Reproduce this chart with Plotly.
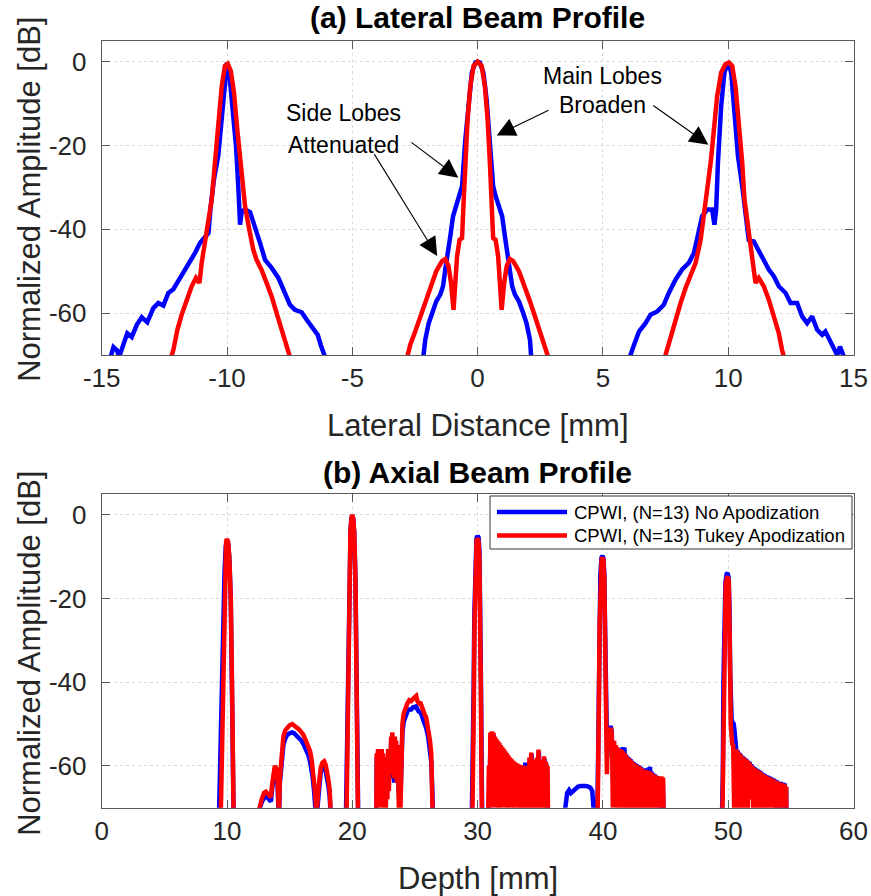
import plotly.graph_objects as go

# ---------------- Lateral beam profile (a) ----------------
LAT_BLUE_LEFT = [(-14.75,-80),(-14.67,-71),(-14.53,-68.1),(-14.40,-68.8),(-14.30,-70.4),(-14.14,-67.6),(-13.98,-64.8),
    (-13.80,-65.7),(-13.60,-62.8),(-13.40,-61.0),(-13.18,-62.2),(-12.94,-58.8),(-12.74,-57.6),(-12.54,-58.2),(-12.34,-55.2),
    (-12.14,-54.3),(-11.90,-52.0),(-11.68,-50.0),(-11.48,-48.0),(-11.28,-45.7),(-11.08,-43.3),(-10.88,-41.8),(-10.74,-40.9),
    (-10.65,-34.5),(-10.52,-28.1),(-10.35,-22.5),(-10.21,-13.0),(-10.08,-2.6),(-10.00,-0.2),(-9.91,-2.6),(-9.77,-10.6),
    (-9.64,-20.2),(-9.55,-29.7),(-9.48,-38.9),(-9.41,-35.7),(-9.28,-35.3),(-9.08,-35.9),(-8.88,-39.3),(-8.68,-43.3),
    (-8.48,-47.3),(-8.22,-49.2),(-7.95,-51.6),(-7.69,-55.2),(-7.49,-58.0),(-7.29,-59.2),(-7.02,-59.8),(-6.82,-61.6),
    (-6.58,-63.6),(-6.38,-65.2),(-6.26,-67.6),(-6.09,-70.4),(-6.00,-80)]
LAT_BLUE_CENTER = [(-2.25,-80),(-2.18,-71.2),(-2.09,-66.4),(-1.95,-62.4),(-1.82,-60.0),(-1.65,-57.2),(-1.49,-55.6),
    (-1.38,-53.6),(-1.29,-49.6),(-1.20,-46.5),(-1.09,-41.7),(-0.98,-36.9),(-0.85,-34.5),(-0.72,-32.1),(-0.62,-29.7),
    (-0.49,-18.6),(-0.36,-9.1),(-0.23,-2.6),(-0.09,-0.2),(0.0,0.0),(0.09,-0.2),(0.23,-2.6),(0.36,-9.1),(0.49,-18.6),
    (0.62,-29.7),(0.72,-32.1),(0.85,-34.5),(0.98,-36.9),(1.09,-41.7),(1.20,-46.5),(1.29,-49.6),(1.38,-53.6),(1.49,-55.6),
    (1.65,-57.2),(1.82,-60.0),(1.95,-62.4),(2.09,-66.4),(2.18,-71.2),(2.25,-80)]
LAT_BLUE_RIGHT = [(6.00,-80),(6.10,-70),(6.24,-67.6),(6.44,-64.4),(6.70,-62.4),(6.90,-60.4),(7.17,-59.6),(7.43,-58.0),
    (7.63,-55.2),(7.90,-52.0),(8.16,-49.6),(8.43,-48.0),(8.63,-45.7),(8.83,-40.9),(8.96,-36.9),(9.16,-35.3),(9.36,-35.3),
    (9.45,-38.9),(9.52,-35.3),(9.59,-24.1),(9.72,-10.6),(9.85,-2.6),(9.99,-0.2),(10.12,-2.6),(10.25,-11.4),(10.39,-22.5),
    (10.56,-29.7),(10.69,-36.9),(10.82,-42.5),(11.02,-42.9),(11.22,-45.3),(11.42,-47.3),(11.62,-49.6),(11.82,-51.2),
    (12.02,-53.6),(12.29,-55.2),(12.49,-57.6),(12.75,-57.6),(12.95,-60.8),(13.15,-62.4),(13.35,-60.8),(13.55,-64.0),
    (13.75,-65.2),(13.88,-64.4),(14.08,-66.8),(14.22,-68.8),(14.35,-70),(14.46,-68.0),(14.59,-70),(14.65,-80)]

LAT_RED_LEFT = [(-12.35,-80),(-12.27,-71.2),(-12.14,-68.8),(-11.98,-64.0),(-11.81,-60.4),(-11.61,-56.8),(-11.41,-53.6),
    (-11.24,-51.6),(-11.10,-52.8),(-11.01,-48.0),(-10.88,-42.5),(-10.74,-37.7),(-10.61,-32.9),(-10.48,-24.1),(-10.35,-14.6),
    (-10.21,-5.8),(-10.08,-1.0),(-9.97,-0.5),(-9.85,-2.2),(-9.72,-7.4),(-9.59,-16.2),(-9.41,-28.1),(-9.28,-34.5),
    (-9.11,-40.1),(-8.95,-44.9),(-8.82,-47.3),(-8.62,-49.7),(-8.42,-52.8),(-8.22,-56.0),(-8.02,-60.0),(-7.82,-64.0),
    (-7.62,-68.0),(-7.49,-70.4),(-7.40,-80)]
LAT_RED_CENTER = [(-2.90,-80),(-2.79,-70),(-2.69,-67.6),(-2.49,-64.4),(-2.29,-60.8),(-2.09,-57.2),(-1.89,-53.6),
    (-1.65,-50.0),(-1.42,-47.6),(-1.29,-47.1),(-1.16,-48.8),(-1.06,-52.8),(-0.96,-59.2),(-0.89,-52.8),(-0.82,-46.5),
    (-0.72,-42.5),(-0.62,-42.1),(-0.56,-33.7),(-0.49,-24.1),(-0.40,-13.8),(-0.29,-5.8),(-0.16,-1.0),(0.0,0.0),
    (0.16,-1.0),(0.29,-5.8),(0.40,-13.8),(0.49,-24.1),(0.56,-33.7),(0.62,-42.1),(0.72,-42.5),(0.82,-46.5),(0.89,-52.8),
    (0.96,-59.2),(1.06,-52.8),(1.16,-48.8),(1.29,-47.1),(1.42,-47.6),(1.65,-50.0),(1.89,-53.6),(2.09,-57.2),(2.29,-60.8),
    (2.49,-64.4),(2.69,-67.6),(2.79,-70),(2.90,-80)]
LAT_RED_RIGHT = [(7.40,-80),(7.50,-70),(7.70,-65.6),(7.90,-61.6),(8.10,-57.6),(8.30,-54.0),(8.50,-51.2),(8.70,-48.0),
    (8.90,-42.5),(9.03,-36.9),(9.16,-31.3),(9.30,-24.1),(9.43,-16.2),(9.56,-8.2),(9.72,-2.6),(9.89,-0.6),(10.03,-0.2),
    (10.16,-1.0),(10.29,-5.8),(10.43,-14.6),(10.56,-24.1),(10.65,-32.9),(10.76,-37.7),(10.89,-42.5),(11.00,-48.0),
    (11.09,-52.8),(11.22,-51.6),(11.42,-53.6),(11.62,-56.8),(11.82,-60.4),(12.02,-64.8),(12.15,-68.8),(12.22,-70.4),(12.30,-80)]

# ---------------- Axial beam profile (b) ----------------
AX_BLUE_10 = [(9.30,-80),(9.42,-62),(9.55,-45),(9.68,-28),(9.80,-14),(9.90,-7.5),(10.00,-6.2),(10.08,-6.7),(10.18,-10),
    (10.30,-20),(10.40,-40),(10.48,-60),(10.56,-80)]
AX_RED_10 = [(9.45,-80),(9.62,-55),(9.70,-40),(9.78,-20),(9.86,-10),(9.93,-6.3),(10.00,-5.8),(10.08,-6.3),(10.18,-10),
    (10.30,-20),(10.40,-40),(10.48,-60),(10.56,-80)]
AX_BLUE_15 = [(12.50,-80),(12.62,-70),(12.80,-68.5),(12.95,-67.5),(13.10,-67),(13.30,-67.8),(13.50,-68.5),(13.62,-65),
    (13.72,-62.5),(13.82,-61),(13.92,-61.5),(14.02,-63),(14.10,-70),(14.15,-72),(14.22,-64),(14.32,-61),(14.40,-57),
    (14.50,-55),(14.65,-53.5),(14.80,-52.6),(15.00,-52.2),(15.20,-52),(15.35,-52.2),(15.55,-52.7),(15.75,-53.3),
    (15.95,-54),(16.10,-54.8),(16.30,-56),(16.50,-57.5),(16.63,-59),(16.75,-61),(16.85,-63),(16.95,-66),(17.05,-69),
    (17.15,-74),(17.25,-69),(17.35,-64.5),(17.48,-61.5),(17.62,-60.5),(17.75,-60.3),(17.88,-61.3),(17.98,-62.5),
    (18.10,-65),(18.20,-67.5),(18.30,-71),(18.40,-80)]
AX_RED_15 = [(12.50,-80),(12.60,-70),(12.77,-68),(12.95,-66.5),(13.10,-66.2),(13.30,-66.8),(13.50,-67.5),(13.62,-64),
    (13.72,-62),(13.82,-60),(13.92,-60.5),(14.02,-62),(14.10,-69),(14.15,-71),(14.22,-63),(14.32,-60),(14.40,-55),
    (14.50,-53),(14.65,-51.5),(14.80,-50.8),(15.00,-50.3),(15.20,-50),(15.35,-50.3),(15.55,-50.8),(15.75,-51.3),
    (15.95,-52),(16.10,-52.6),(16.30,-54),(16.50,-55.5),(16.63,-56.5),(16.75,-58.5),(16.85,-60.5),(16.95,-64),
    (17.05,-67),(17.15,-72),(17.25,-67),(17.35,-63),(17.48,-60.5),(17.62,-59.2),(17.75,-58.9),(17.88,-59.8),
    (17.98,-61),(18.10,-63.5),(18.20,-66),(18.30,-70),(18.40,-80)]
AX_BLUE_20 = [(19.45,-80),(19.58,-55),(19.64,-40),(19.70,-25),(19.77,-12),(19.86,-3.5),(19.93,-0.8),(20.00,-0.1),
    (20.07,-0.8),(20.15,-4),(20.25,-15),(20.32,-32),(20.38,-52),(20.50,-80)]
AX_RED_20 = [(19.50,-80),(19.62,-50),(19.68,-30),(19.75,-15),(19.85,-4),(19.93,-0.8),(20.00,0.0),(20.07,-0.8),
    (20.15,-4),(20.25,-15),(20.32,-30),(20.38,-50),(20.48,-80)]
AX_BLUE_25 = [(21.90,-80),(21.95,-58),(22.00,-68),(22.05,-57),(22.10,-66),(22.15,-57),(22.20,-68),(22.25,-57),
    (22.30,-67),(22.35,-57),(22.40,-69),(22.45,-58),(22.52,-67),(22.60,-69),(22.68,-67),(22.74,-59),(22.80,-66),
    (22.86,-57),(22.92,-64),(22.98,-57),(23.04,-63),(23.10,-54),(23.15,-62),(23.20,-53),(23.25,-63),(23.30,-56),
    (23.35,-64),(23.40,-54),(23.45,-62),(23.50,-55),(23.56,-63),(23.62,-56),(23.70,-66),(23.78,-68),(23.86,-66),
    (23.92,-59),(24.00,-52),(24.10,-49.5),(24.25,-48),(24.40,-47),(24.55,-46.5),(24.70,-46.5),(24.85,-46),
    (25.00,-45.8),(25.10,-45.8),(25.20,-46.5),(25.30,-47),(25.45,-47.2),(25.60,-48.5),(25.75,-49.5),(25.90,-51),
    (26.05,-53),(26.20,-56),(26.30,-59),(26.40,-67),(26.47,-80)]
AX_RED_25 = [(21.90,-80),(21.95,-57),(22.00,-70),(22.05,-56),(22.10,-68),(22.15,-56),(22.20,-70),(22.25,-56),
    (22.30,-69),(22.35,-56),(22.40,-70),(22.45,-57),(22.52,-72),(22.60,-80),(22.68,-70),(22.74,-58),(22.80,-68),
    (22.86,-56),(22.92,-66),(22.98,-56),(23.04,-62),(23.10,-53),(23.15,-60),(23.20,-52),(23.25,-62),(23.30,-55),
    (23.35,-63),(23.40,-53),(23.45,-60),(23.50,-54),(23.56,-64),(23.62,-55),(23.70,-68),(23.78,-80),(23.86,-68),
    (23.92,-57),(24.00,-50),(24.10,-47.5),(24.25,-46),(24.40,-45),(24.55,-44.3),(24.70,-44.5),(24.85,-44),
    (25.00,-43.5),(25.10,-43.3),(25.20,-44.5),(25.30,-45),(25.45,-45),(25.60,-46.5),(25.75,-47.5),(25.90,-48.5),
    (26.05,-51),(26.20,-54),(26.30,-57),(26.40,-65),(26.47,-80)]
AX_BLUE_30 = [(29.50,-80),(29.62,-62),(29.68,-42),(29.74,-24),(29.82,-11),(29.91,-5.6),(30.00,-5.0),(30.08,-5.4),
    (30.15,-9),(30.21,-20),(30.27,-40),(30.33,-62),(30.40,-80),
    (30.82,-80),(30.92,-62),(30.98,-66),(31.05,-52.5),(31.11,-64),(31.17,-52),(31.23,-66),(31.29,-52.5),(31.35,-64),
    (31.41,-53.5),(31.47,-66),(31.53,-54),(31.59,-64),(31.65,-54.5),(31.71,-67),(31.77,-55),(31.83,-64),(31.89,-55.5),
    (31.95,-66),(32.01,-56),(32.07,-63),(32.13,-56.5),(32.19,-66),(32.25,-57),(32.31,-64),(32.37,-57.5),(32.43,-67),
    (32.49,-58),(32.55,-64),(32.61,-58.5),(32.67,-66),(32.73,-58.8),(32.79,-64),(32.85,-59.2),(32.91,-67),(32.97,-59.4),
    (33.03,-64),(33.09,-59.7),(33.15,-66),(33.21,-59.9),(33.27,-64),(33.33,-60.1),(33.39,-67),(33.45,-60.2),(33.51,-64),
    (33.57,-60.3),(33.63,-68),(33.69,-60.2),(33.75,-66),(33.81,-59.2),(33.87,-64),(33.93,-60.4),(33.99,-68),(34.05,-60.4),
    (34.11,-66),(34.17,-58.3),(34.23,-64),(34.31,-57.2),(34.39,-68),(34.47,-60.4),(34.55,-64),(34.61,-58.8),(34.69,-68),
    (34.77,-58.3),(34.83,-64),(34.89,-56.6),(34.97,-68),(35.05,-60.4),(35.11,-64),(35.17,-58.8),(35.25,-68),(35.33,-58.2),
    (35.41,-66),(35.47,-59.4),(35.55,-62),(35.62,-80)]
AX_RED_30 = [(29.55,-80),(29.65,-65),(29.70,-45),(29.76,-25),(29.84,-12),(29.92,-6.2),(30.00,-5.6),(30.07,-6.1),
    (30.14,-10),(30.20,-22),(30.26,-42),(30.32,-65),(30.38,-80),
    (30.80,-80),(30.90,-60),(30.96,-70),(31.02,-52),(31.08,-68),(31.14,-51.7),(31.20,-70),(31.26,-52),(31.32,-68),
    (31.38,-53),(31.44,-70),(31.50,-53.5),(31.56,-68),(31.62,-54),(31.68,-72),(31.74,-54.5),(31.80,-66),(31.86,-55),
    (31.92,-70),(31.98,-55.5),(32.04,-65),(32.10,-56),(32.16,-70),(32.22,-56.5),(32.28,-66),(32.34,-57),(32.40,-71),
    (32.46,-57.5),(32.52,-66),(32.58,-58),(32.64,-70),(32.70,-58.3),(32.76,-67),(32.82,-58.7),(32.88,-72),(32.94,-59),
    (33.00,-68),(33.06,-59.3),(33.12,-70),(33.18,-59.5),(33.24,-66),(33.30,-59.7),(33.36,-72),(33.42,-59.8),(33.48,-68),
    (33.54,-60),(33.60,-80),(33.66,-60),(33.72,-70),(33.78,-60),(33.84,-66),(33.90,-60.2),(33.96,-74),(34.02,-60.3),
    (34.08,-70),(34.14,-58),(34.20,-66),(34.28,-56.8),(34.36,-80),(34.44,-60),(34.52,-66),(34.58,-58.5),(34.66,-80),
    (34.74,-58),(34.80,-66),(34.86,-56.1),(34.94,-80),(35.02,-60),(35.08,-66),(35.14,-58.5),(35.22,-80),(35.30,-57.7),
    (35.38,-68),(35.44,-59),(35.52,-62),(35.58,-60),(35.65,-80)]
AX_BLUE_38 = [(36.85,-80),(37.00,-70),(37.15,-66.5),(37.30,-65.8),(37.45,-66.5),(37.60,-66),(37.80,-65.3),(38.00,-65),
    (38.20,-64.8),(38.40,-64.7),(38.60,-64.8),(38.80,-64.9),(39.00,-65.2),(39.15,-66),(39.25,-70),(39.30,-80)]
AX_BLUE_40 = [(39.50,-80),(39.60,-62),(39.66,-42),(39.72,-25),(39.80,-14),(39.89,-10.2),(39.96,-9.8),(40.04,-10.3),
    (40.11,-14),(40.17,-26),(40.23,-42),(40.28,-56),(40.34,-58),(40.42,-52),(40.52,-50.8),(40.62,-50.5),(40.70,-51.5),
    (40.76,-56),(40.82,-64),(40.88,-55),(40.94,-64),(41.00,-55.5),(41.06,-63),(41.12,-55.8),(41.18,-65),(41.24,-56),
    (41.30,-63),(41.36,-56),(41.42,-65),(41.48,-55.8),(41.54,-63),(41.60,-55.5),(41.66,-65),(41.72,-55.6),(41.78,-64),
    (41.84,-57.3),(41.90,-66),(41.96,-57.8),(42.02,-64),(42.08,-58),(42.14,-67),(42.20,-58.4),(42.26,-64),(42.32,-58.8),
    (42.38,-66),(42.44,-59.1),(42.50,-64),(42.56,-59.4),(42.62,-67),(42.68,-59.6),(42.74,-64),(42.80,-59.8),(42.86,-66),
    (42.92,-60),(42.98,-64),(43.04,-60.3),(43.10,-67),(43.16,-60.6),(43.22,-64),(43.28,-60.8),(43.34,-66),(43.40,-60.8),
    (43.46,-64),(43.52,-60.6),(43.58,-67),(43.64,-60.4),(43.70,-64),(43.76,-60.2),(43.82,-66),(43.88,-61.4),(43.94,-65),
    (44.00,-61.8),(44.06,-68),(44.12,-62),(44.18,-66),(44.24,-62.3),(44.30,-69),(44.36,-62.5),(44.44,-68),(44.50,-63),
    (44.58,-70),(44.64,-63),(44.72,-70),(44.78,-63),(44.88,-80)]
AX_RED_40 = [(39.55,-80),(39.63,-65),(39.68,-45),(39.74,-26),(39.82,-14),(39.90,-10.6),(39.97,-10.2),(40.04,-10.8),
    (40.11,-15),(40.17,-28),(40.22,-45),(40.27,-60),(40.32,-62),(40.40,-53),(40.50,-51.5),(40.60,-51),(40.68,-51.5),
    (40.74,-55),(40.79,-70),(40.84,-60),(40.90,-54),(40.96,-70),(41.02,-55),(41.08,-66),(41.14,-55.5),(41.20,-72),
    (41.26,-56),(41.32,-66),(41.38,-56),(41.44,-70),(41.50,-56.2),(41.56,-68),(41.62,-56.5),(41.68,-74),(41.74,-57),
    (41.80,-66),(41.86,-57.6),(41.92,-72),(41.98,-58),(42.04,-68),(42.10,-58.2),(42.16,-74),(42.22,-58.6),(42.28,-67),
    (42.34,-59),(42.40,-72),(42.46,-59.3),(42.52,-68),(42.58,-59.6),(42.64,-80),(42.70,-59.8),(42.76,-66),(42.82,-60),
    (42.88,-72),(42.94,-60.2),(43.00,-68),(43.06,-60.5),(43.12,-80),(43.18,-60.8),(43.24,-67),(43.30,-61),(43.36,-72),
    (43.42,-61),(43.48,-68),(43.54,-61.1),(43.60,-80),(43.66,-61.2),(43.72,-68),(43.78,-61.4),(43.84,-72),(43.90,-61.8),
    (43.96,-68),(44.02,-62),(44.08,-80),(44.14,-62.2),(44.20,-68),(44.26,-62.4),(44.32,-72),(44.38,-62.5),(44.46,-70),
    (44.52,-62.5),(44.60,-80),(44.66,-62.5),(44.74,-70),(44.80,-62.8),(44.90,-80)]
AX_BLUE_50 = [(49.45,-80),(49.57,-62),(49.62,-40),(49.69,-24),(49.78,-16),(49.88,-14.1),(49.95,-13.9),(50.03,-15),
    (50.10,-22),(50.16,-38),(50.21,-47),(50.28,-49.5),(50.36,-49.6),(50.44,-50),(50.50,-51.5),(50.56,-53.5),
    (50.62,-55.5),(50.70,-62),(50.76,-56.3),(50.82,-64),(50.88,-56.8),(50.94,-62),(51.00,-57.2),(51.06,-66),(51.12,-57.6),
    (51.18,-62),(51.24,-57.9),(51.30,-65),(51.36,-58.2),(51.42,-62),(51.48,-58.5),(51.54,-66),(51.60,-58.8),(51.66,-62),
    (51.72,-59.1),(51.78,-66),(51.84,-59.6),(51.90,-64),(51.96,-60),(52.02,-67),(52.08,-60.3),(52.14,-64),(52.20,-60.6),
    (52.26,-67),(52.32,-60.8),(52.38,-64),(52.44,-61),(52.50,-67),(52.56,-61.2),(52.62,-64),(52.68,-61.6),(52.74,-67),
    (52.80,-61.8),(52.86,-65),(52.92,-62),(52.98,-68),(53.04,-62.2),(53.12,-65),(53.18,-62.4),(53.26,-68),(53.32,-62.6),
    (53.40,-66),(53.46,-62.8),(53.54,-69),(53.60,-63),(53.68,-67),(53.74,-63.3),(53.82,-70),(53.90,-63.5),(53.98,-68),
    (54.04,-63.8),(54.12,-70),(54.20,-63.8),(54.28,-69),(54.36,-64),(54.44,-70),(54.50,-64.2),(54.58,-68),(54.62,-65),
    (54.68,-80)]
AX_RED_50 = [(49.50,-80),(49.58,-62),(49.63,-40),(49.70,-24),(49.80,-16.5),(49.90,-15),(49.97,-14.8),(50.05,-16),
    (50.12,-24),(50.17,-40),(50.20,-50),(50.25,-53),(50.32,-54.8),(50.40,-55),(50.46,-62),(50.52,-80),(50.58,-60),
    (50.64,-56),(50.70,-66),(50.76,-56.5),(50.82,-72),(50.88,-57),(50.94,-65),(51.00,-57.3),(51.06,-80),(51.12,-57.8),
    (51.18,-66),(51.24,-58),(51.30,-72),(51.36,-58.3),(51.42,-66),(51.48,-58.6),(51.54,-80),(51.60,-59),(51.66,-65),
    (51.72,-59.3),(51.78,-68),(51.84,-59.8),(51.90,-67),(51.96,-60.2),(52.02,-80),(52.08,-60.5),(52.14,-68),(52.20,-60.8),
    (52.26,-80),(52.32,-61),(52.38,-68),(52.44,-61.2),(52.50,-80),(52.56,-61.4),(52.62,-68),(52.68,-61.8),(52.74,-80),
    (52.80,-62),(52.86,-68),(52.92,-62.2),(52.98,-80),(53.04,-62.4),(53.12,-68),(53.18,-62.6),(53.26,-80),(53.32,-62.8),
    (53.40,-68),(53.46,-63),(53.54,-80),(53.60,-63.2),(53.68,-70),(53.74,-63.5),(53.82,-80),(53.90,-63.7),(53.98,-70),
    (54.04,-64),(54.12,-80),(54.20,-64),(54.28,-70),(54.36,-64.2),(54.44,-80),(54.50,-64.4),(54.58,-68),(54.62,-65),
    (54.68,-80)]

LAT_XTICKS = [-15, -10, -5, 0, 5, 10, 15]
AX_XTICKS = [0, 10, 20, 30, 40, 50, 60]
YTICKS = [-60, -40, -20, 0]
SERIES_NAMES = ["CPWI, (N=13) No Apodization", "CPWI, (N=13) Tukey Apodization"]
COLORS = ["#0000FF", "#FF0000"]


def join(*segs):
    xs, ys = [], []
    for s in segs:
        xs += [p[0] for p in s]
        ys += [p[1] for p in s]
    return xs, ys


FONT = "Liberation Sans, Arial, Helvetica, sans-serif"
fig = go.Figure()

lb = join(LAT_BLUE_LEFT, LAT_BLUE_CENTER, LAT_BLUE_RIGHT)
lr = join(LAT_RED_LEFT, LAT_RED_CENTER, LAT_RED_RIGHT)
ab = join(AX_BLUE_10, AX_BLUE_15, AX_BLUE_20, AX_BLUE_25, AX_BLUE_30, AX_BLUE_38, AX_BLUE_40, AX_BLUE_50)
ar = join(AX_RED_10, AX_RED_15, AX_RED_20, AX_RED_25, AX_RED_30, AX_RED_40, AX_RED_50)

LW = 4.5
fig.add_trace(go.Scatter(x=lb[0], y=lb[1], mode="lines", line=dict(color=COLORS[0], width=LW),
                         name=SERIES_NAMES[0], showlegend=False, xaxis="x", yaxis="y"))
fig.add_trace(go.Scatter(x=lr[0], y=lr[1], mode="lines", line=dict(color=COLORS[1], width=LW),
                         name=SERIES_NAMES[1], showlegend=False, xaxis="x", yaxis="y"))
fig.add_trace(go.Scatter(x=ab[0], y=ab[1], mode="lines", line=dict(color=COLORS[0], width=LW),
                         name=SERIES_NAMES[0], showlegend=False, xaxis="x2", yaxis="y2"))
fig.add_trace(go.Scatter(x=ar[0], y=ar[1], mode="lines", line=dict(color=COLORS[1], width=LW),
                         name=SERIES_NAMES[1], showlegend=False, xaxis="x2", yaxis="y2"))
# empty helper traces so the label-only overlay axes get drawn
for xa, ya in [("x", "y3"), ("x2", "y4")]:
    fig.add_trace(go.Scatter(x=[None], y=[None], mode="lines", showlegend=False, hoverinfo="skip",
                             xaxis=xa, yaxis=ya))

W, H = 871, 896
XL, XR = 101.7, 853.5
TOP_T, TOP_B = 40.7, 355.0
BOT_T, BOT_B = 494.0, 807.7
AXC = "#5a5a5a"
TICKFONT = dict(family=FONT, size=26, color="#262626")

common = dict(showline=True, mirror="ticks", linecolor=AXC, linewidth=1.3, ticks="inside", ticklen=8,
              tickcolor=AXC, tickwidth=1.2, showgrid=True, gridcolor="#dadada", griddash="dot", gridwidth=1,
              zeroline=False, tickfont=TICKFONT, automargin=False)
# overlay axes that only carry the y tick labels (pushed out from the axis line like MATLAB)
ylab = dict(range=[-70, 5], tickvals=YTICKS, ticktext=[str(v) for v in YTICKS], ticks="outside", ticklen=9,
            tickcolor="rgba(0,0,0,0)", showgrid=False, showline=False, zeroline=False, tickfont=TICKFONT,
            automargin=False, side="left")

fig.update_layout(
    width=W, height=H, margin=dict(l=0, r=0, t=0, b=0, pad=0),
    paper_bgcolor="white", plot_bgcolor="white", showlegend=False,
    xaxis=dict(domain=[XL / W, XR / W], range=[-15, 15], anchor="y", tickvals=LAT_XTICKS,
               ticktext=[str(v) for v in LAT_XTICKS], **common),
    yaxis=dict(domain=[1 - TOP_B / H, 1 - TOP_T / H], range=[-70, 5], anchor="x", tickvals=YTICKS,
               showticklabels=False, **common),
    xaxis2=dict(domain=[XL / W, XR / W], range=[0, 60], anchor="y2", tickvals=AX_XTICKS,
                ticktext=[str(v) for v in AX_XTICKS], **common),
    yaxis2=dict(domain=[1 - BOT_B / H, 1 - BOT_T / H], range=[-70, 5], anchor="x2", tickvals=YTICKS,
                showticklabels=False, **common),
    yaxis3=dict(overlaying="y", anchor="x", **ylab),
    yaxis4=dict(overlaying="y2", anchor="x2", **ylab),
)

# legend box (bottom panel), drawn as shapes + text
LEG_L, LEG_R, LEG_T, LEG_B = 490, 852, 496, 549
ROWS_Y = [512, 535.5]
shapes = [dict(type="rect", xref="paper", yref="paper", x0=LEG_L / W, x1=LEG_R / W, y0=1 - LEG_B / H,
               y1=1 - LEG_T / H, fillcolor="white", line=dict(color="#333333", width=1), layer="above")]
ann = []
for name, col, yy in zip(SERIES_NAMES, COLORS, ROWS_Y):
    shapes.append(dict(type="line", xref="paper", yref="paper", x0=497 / W, x1=567 / W, y0=1 - yy / H,
                       y1=1 - yy / H, line=dict(color=col, width=LW), layer="above"))
    ann.append(dict(text=name, x=572 / W, y=1 - yy / H, xref="paper", yref="paper", showarrow=False,
                    font=dict(family=FONT, size=18.5, color="black"), xanchor="left", yanchor="middle"))
fig.update_layout(shapes=shapes)

cx = (XL + XR) / 2 / W
ann.append(dict(text="<b>(a) Lateral Beam Profile</b>", x=cx, y=1 - 18 / H, xref="paper", yref="paper",
                showarrow=False, font=dict(family=FONT, size=30, color="black"), xanchor="center", yanchor="middle"))
ann.append(dict(text="<b>(b) Axial Beam Profile</b>", x=cx, y=1 - 472 / H, xref="paper", yref="paper",
                showarrow=False, font=dict(family=FONT, size=30, color="black"), xanchor="center", yanchor="middle"))
ann.append(dict(text="Lateral Distance [mm]", x=cx, y=1 - 425 / H, xref="paper", yref="paper",
                showarrow=False, font=dict(family=FONT, size=31, color="#262626"), xanchor="center", yanchor="middle"))
ann.append(dict(text="Depth [mm]", x=cx, y=1 - 878 / H, xref="paper", yref="paper",
                showarrow=False, font=dict(family=FONT, size=31, color="#262626"), xanchor="center", yanchor="middle"))
for yc in [(TOP_T + TOP_B) / 2 + 2, (BOT_T + BOT_B) / 2 + 3]:
    ann.append(dict(text="Normalized Amplitude [dB]", x=30 / W, y=1 - yc / H, xref="paper", yref="paper",
                    showarrow=False, textangle=-90, font=dict(family=FONT, size=31, color="#262626"),
                    xanchor="center", yanchor="middle"))

# text callouts (data coords of top panel)
for txt, x, y in [("Main Lobes", 5.0, -3.5), ("Broaden", 5.0, -10.4), ("Side Lobes", -5.37, -12.3),
                  ("Attenuated", -5.37, -19.8)]:
    ann.append(dict(text=txt, x=x, y=y, xref="x", yref="y", showarrow=False,
                    font=dict(family=FONT, size=23, color="black"), xanchor="center", yanchor="middle"))
# arrows: (head x, head y, tail x, tail y)
for hx, hy, tx, ty in [(0.76, -17.6, 2.89, -11.4), (9.21, -19.8, 6.95, -10.2),
                       (-0.77, -27.7, -2.70, -19.0), (-1.61, -46.4, -4.16, -21.7)]:
    ann.append(dict(text="", x=hx, y=hy, ax=tx, ay=ty, xref="x", yref="y", axref="x", ayref="y",
                    showarrow=True, arrowhead=2, arrowsize=3.4, arrowwidth=1.1, arrowcolor="black", standoff=0))
fig.update_layout(annotations=ann)

fig.write_html("out.html")
